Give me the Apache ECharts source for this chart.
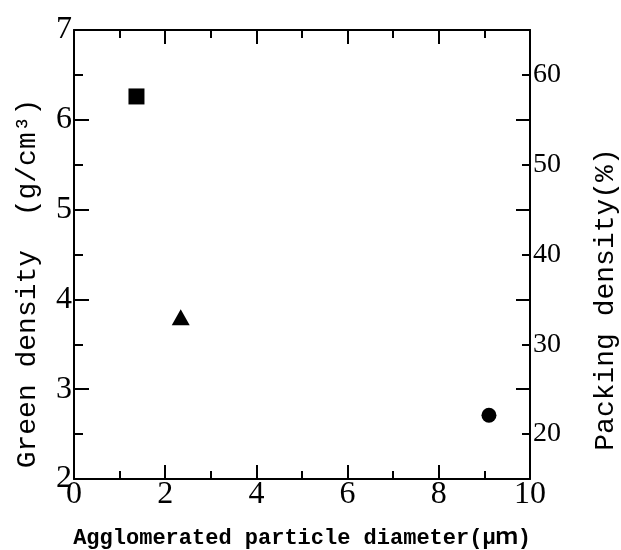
<!DOCTYPE html>
<html>
<head>
<meta charset="utf-8">
<script src="https://cdn.jsdelivr.net/npm/echarts@6/dist/echarts.min.js"></script>
<style>
  html, body { margin: 0; padding: 0; background: #fff; }
  #chartId { width: 621px; height: 550px; }
</style>
</head>
<body>
<div id="chartId"></div>
<script>
// points: square, triangle, circle
const diameterSquare = [1.37]
const greenSquare = [6.26]
const diameterTriangle = [2.34]
const greenTriangle = [3.8]
const diameterCircle = [9.1]
const greenCircle = [2.71]

// tick labels
const xTicks = [0, 2, 4, 6, 8, 10]
const greenTicks = [2, 3, 4, 5, 6, 7]
const packingTicks = [20, 30, 40, 50, 60]

const toPoints = (xs, ys) => xs.map((x, i) => [x, ys[i]])

const black = '#000'
const serif = 'Liberation Serif'
const mono = 'Liberation Mono, Noto Sans CJK JP'

const tickStyle = { color: black, width: 2 }
const axisLine = { onZero: false, lineStyle: { color: black, width: 2 } }

function xAxisBase(position) {
  return {
    type: 'value',
    position: position,
    min: xTicks[0],
    max: xTicks[xTicks.length - 1],
    interval: 2,
    axisLine: axisLine,
    axisTick: { inside: true, length: 14, lineStyle: tickStyle },
    minorTick: { show: true, splitNumber: 2, length: 8, lineStyle: tickStyle },
    splitLine: { show: false }
  }
}

const myChart = echarts.init(document.getElementById('chartId'))
myChart.setOption({
  backgroundColor: '#fff',
  animation: false,
  grid: {
    left: 74,
    right: 91,
    top: 30,
    bottom: 71,
    outerBoundsMode: 'none'
  },
  xAxis: [
    Object.assign(xAxisBase('bottom'), {
      axisLabel: {
        color: black,
        fontFamily: serif,
        fontSize: 32,
        margin: 0
      },
      name: 'Agglomerated particle diameter(μｍ)',
      nameLocation: 'middle',
      nameGap: 48,
      nameTextStyle: {
        color: black,
        fontFamily: mono,
        fontWeight: 'bold',
        fontSize: 22
      }
    }),
    Object.assign(xAxisBase('top'), {
      axisLabel: { show: false }
    })
  ],
  yAxis: [
    {
      type: 'value',
      position: 'left',
      min: greenTicks[0],
      max: greenTicks[greenTicks.length - 1],
      interval: 1,
      axisLine: axisLine,
      axisTick: { inside: true, length: 15, lineStyle: tickStyle },
      minorTick: { show: true, splitNumber: 2, length: 9, lineStyle: tickStyle },
      splitLine: { show: false },
      axisLabel: {
        color: black,
        fontFamily: serif,
        fontSize: 32,
        margin: 2
      },
      name: 'Green density  (g/cm³)',
      nameLocation: 'middle',
      nameRotate: 90,
      nameGap: 32,
      nameTextStyle: {
        color: black,
        fontFamily: mono,
        fontSize: 28,
        padding: [0, 58, 0, 0]
      }
    },
    {
      type: 'value',
      position: 'right',
      min: 15,
      max: 65,
      interval: 10,
      axisLine: axisLine,
      axisTick: { inside: true, length: 14, lineStyle: tickStyle },
      minorTick: { show: true, splitNumber: 2, length: 8, lineStyle: tickStyle },
      splitLine: { show: false },
      axisLabel: {
        customValues: packingTicks,
        color: black,
        fontFamily: serif,
        fontSize: 28,
        margin: 3
      },
      name: 'Packing density(%)',
      nameLocation: 'middle',
      nameRotate: 90,
      nameGap: 62,
      nameTextStyle: {
        color: black,
        fontFamily: mono,
        fontSize: 28,
        padding: [0, 90, 0, 0]
      }
    }
  ],
  series: [
    {
      type: 'scatter',
      symbol: 'rect',
      symbolSize: 16,
      itemStyle: { color: black, opacity: 1 },
      data: toPoints(diameterSquare, greenSquare)
    },
    {
      type: 'scatter',
      symbol: 'triangle',
      symbolSize: [18, 16],
      itemStyle: { color: black, opacity: 1 },
      data: toPoints(diameterTriangle, greenTriangle)
    },
    {
      type: 'scatter',
      symbol: 'circle',
      symbolSize: 15,
      itemStyle: { color: black, opacity: 1 },
      data: toPoints(diameterCircle, greenCircle)
    }
  ]
})
</script>
</body>
</html>
